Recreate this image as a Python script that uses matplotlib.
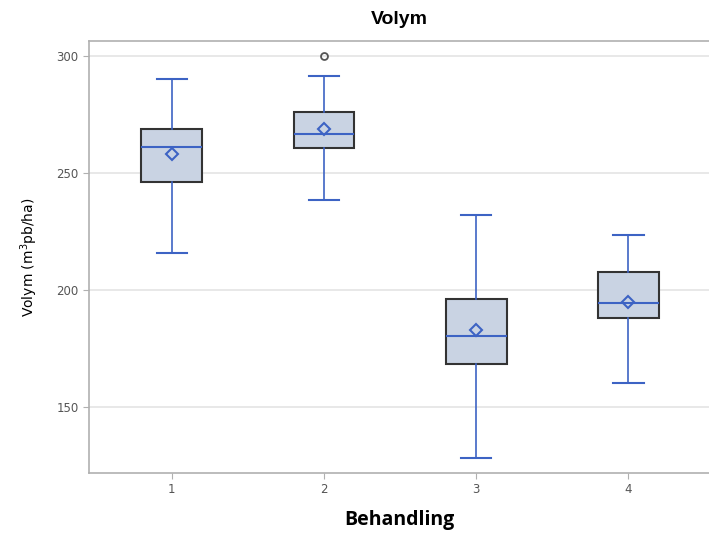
import matplotlib.pyplot as plt

# Box statistics per treatment (Behandling)
groups = [1, 2, 3, 4]
whislo = [215.8, 238.5, 128.2, 160.3]
q1 = [246.2, 260.7, 168.4, 188.0]
med = [261.1, 266.7, 180.3, 194.4]
q3 = [268.8, 276.1, 196.2, 207.7]
whishi = [290.2, 291.5, 232.0, 223.5]
means = [258.1, 268.8, 182.9, 194.9]
outliers = [[], [300.0], [], []]

stats = []
for i in range(len(groups)):
    stats.append(dict(label=str(groups[i]), whislo=whislo[i], q1=q1[i], med=med[i],
                      q3=q3[i], whishi=whishi[i], mean=means[i], fliers=outliers[i]))

blue = '#3d63c4'
fig = plt.figure(figsize=(7.09, 5.36), dpi=100)
ax = fig.add_axes([0.1255, 0.1175, 0.8745, 0.806])

ax.bxp(stats, positions=groups, widths=0.4, patch_artist=True, showmeans=True,
       boxprops=dict(facecolor='#c9d3e3', edgecolor='#333333', linewidth=1.5),
       whiskerprops=dict(color=blue, linewidth=1.2),
       capprops=dict(color=blue, linewidth=1.5),
       capwidths=0.2,
       medianprops=dict(color=blue, linewidth=1.5),
       meanprops=dict(marker='D', markerfacecolor='none', markeredgecolor=blue,
                      markeredgewidth=1.5, markersize=6.5),
       flierprops=dict(marker='o', markerfacecolor='none', markeredgecolor='#555555',
                       markeredgewidth=1.3, markersize=5),
       zorder=3)

ax.set_xlim(0.455, 4.53)
ax.set_ylim(121.8, 306.4)
ax.set_yticks([150, 200, 250, 300])
ax.set_xticks(groups)
ax.set_xticklabels([str(g) for g in groups])
ax.yaxis.grid(True, color='#e4e4e4', linewidth=1.2, zorder=0)
ax.set_axisbelow(True)

for side in ['left', 'bottom', 'top']:
    ax.spines[side].set_color('#b0b0b0')
    ax.spines[side].set_linewidth(1.2)
ax.spines['right'].set_visible(False)
ax.tick_params(colors='#b0b0b0', labelcolor='#555555', labelsize=8.5, length=4)

ax.set_title('Volym', fontsize=14, fontweight='bold', family='Liberation Sans', pad=12)
ax.set_xlabel('Behandling', fontsize=14, fontweight='bold', family='Open Sans', labelpad=10)
ax.set_ylabel('Volym (m$^3$pb/ha)', fontsize=10, labelpad=12)

fig.savefig('out.png', dpi=100)
